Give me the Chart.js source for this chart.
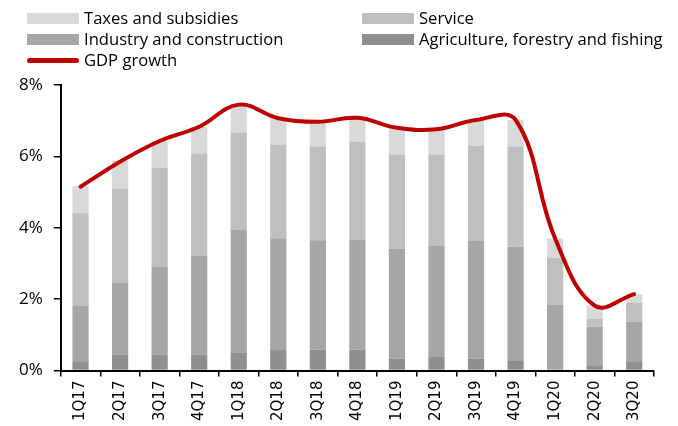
<!DOCTYPE html>
<html>
<head>
<meta charset="utf-8">
<script src="https://cdn.jsdelivr.net/npm/chart.js@4.4.1/dist/chart.umd.min.js"></script>
<style>
  body { margin: 0; background: #fff; }
  #wrap { position: relative; width: 678px; height: 426px; }
  #chart { position: absolute; left: 0; top: 0; }
  .leg { position: absolute; font-family: "Open Sans", sans-serif; font-size: 16.6px; color: #000; white-space: nowrap; line-height: 20px; }
  .leg .box { position: absolute; left: 0; top: 5px; width: 52px; height: 11px; }
  .leg .ln { position: absolute; left: 0; top: 8px; width: 52px; height: 5px; border-radius: 3px; background: #c00000; }
  .leg span { position: absolute; left: 57px; top: 0; }
</style>
</head>
<body>
<div id="wrap">
  <canvas id="chart" width="678" height="426"></canvas>
  <div class="leg" style="left:27px;top:8px"><div class="box" style="background:#d9d9d9"></div><span>Taxes and subsidies</span></div>
  <div class="leg" style="left:362px;top:8px"><div class="box" style="background:#bfbfbf"></div><span>Service</span></div>
  <div class="leg" style="left:27px;top:29px"><div class="box" style="background:#a6a6a6"></div><span>Industry and construction</span></div>
  <div class="leg" style="left:362px;top:29px"><div class="box" style="background:#8f8f8f"></div><span>Agriculture, forestry and fishing</span></div>
  <div class="leg" style="left:27px;top:50px"><div class="ln"></div><span>GDP growth</span></div>
</div>
<script>
var quarters = ['1Q17', '2Q17', '3Q17', '4Q17', '1Q18', '2Q18', '3Q18', '4Q18', '1Q19', '2Q19', '3Q19', '4Q19', '1Q20', '2Q20', '3Q20'];
var agriculture = [0.26, 0.45, 0.45, 0.45, 0.49, 0.60, 0.58, 0.58, 0.33, 0.38, 0.33, 0.29, 0.02, 0.15, 0.26];
var industry = [1.55, 2.01, 2.46, 2.76, 3.46, 3.11, 3.07, 3.08, 3.08, 3.11, 3.30, 3.18, 1.83, 1.08, 1.11];
var service = [2.60, 2.63, 2.78, 2.87, 2.72, 2.62, 2.63, 2.75, 2.64, 2.56, 2.67, 2.81, 1.31, 0.23, 0.53];
var taxes = [0.75, 0.79, 0.74, 0.74, 0.74, 0.74, 0.68, 0.66, 0.75, 0.71, 0.74, 0.74, 0.54, 0.36, 0.24];
var gdpGrowth = [5.15, 5.85, 6.43, 6.83, 7.45, 7.07, 6.97, 7.08, 6.80, 6.76, 7.02, 7.02, 3.70, 1.82, 2.14];
var yTicks = [0, 2, 4, 6, 8];

function barSet(label, data, color) {
  return {
    type: 'bar',
    label: label,
    data: data,
    backgroundColor: color,
    stack: 'parts',
    barPercentage: 0.41,
    categoryPercentage: 1.0,
    order: 2
  };
}

var ctx = document.getElementById('chart').getContext('2d');
var chart = new Chart(ctx, {
  type: 'bar',
  data: {
    labels: quarters,
    datasets: [
      barSet('Agriculture, forestry and fishing', agriculture, '#8f8f8f'),
      barSet('Industry and construction', industry, '#a6a6a6'),
      barSet('Service', service, '#bfbfbf'),
      barSet('Taxes and subsidies', taxes, '#d9d9d9'),
      {
        type: 'line',
        label: 'GDP growth',
        data: gdpGrowth,
        stack: 'gdp',
        borderColor: '#c00000',
        borderWidth: 4,
        borderCapStyle: 'round',
        tension: 0.4,
        pointRadius: 0,
        fill: false,
        order: 0
      }
    ]
  },
  options: {
    responsive: false,
    animation: false,
    layout: { padding: { left: 8, right: 24, top: 85, bottom: 1 } },
    plugins: { legend: { display: false }, tooltip: { enabled: false } },
    scales: {
      x: {
        stacked: true,
        grid: { offset: true, drawOnChartArea: false, color: '#000', tickLength: 6, lineWidth: 1.5 },
        border: { color: '#000', width: 2 },
        ticks: {
          color: '#000',
          font: { family: 'DejaVu Sans', size: 15 },
          minRotation: 90,
          maxRotation: 90,
          padding: 4,
          autoSkip: false
        }
      },
      y: {
        stacked: true,
        min: 0,
        max: 8,
        afterBuildTicks: function (axis) {
          axis.ticks = yTicks.map(function (v) { return { value: v }; });
        },
        grid: { drawOnChartArea: false, color: '#000', tickLength: 7, lineWidth: 1.5 },
        border: { color: '#000', width: 2 },
        ticks: {
          color: '#000',
          font: { family: 'Open Sans', size: 17 },
          padding: 11,
          callback: function (v) { return v + '%'; }
        }
      }
    }
  }
});
</script>
</body>
</html>
